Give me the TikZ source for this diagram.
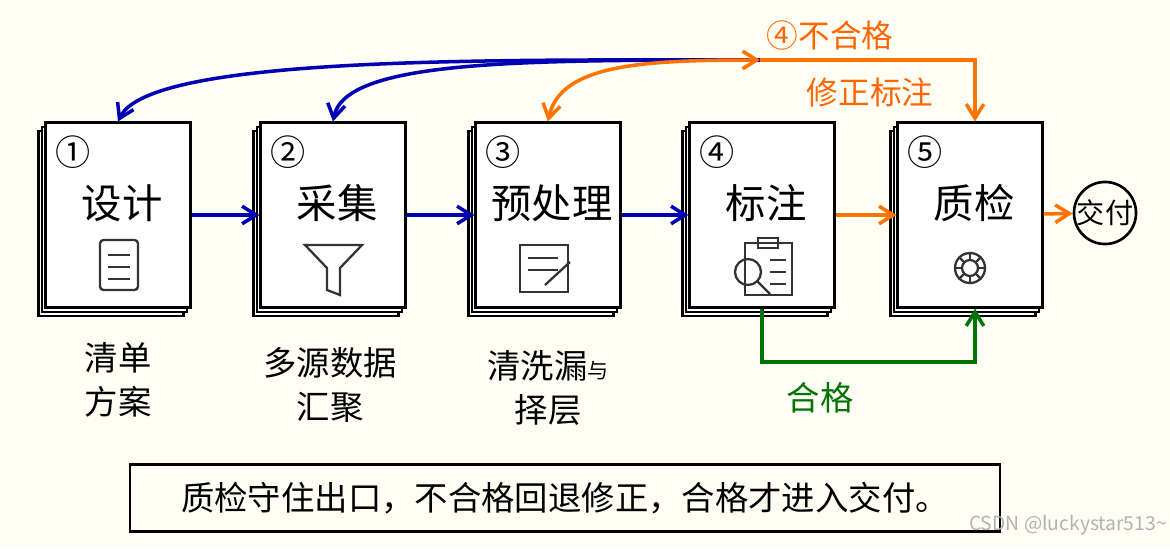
\documentclass[tikz,border=0pt]{standalone}
\usepackage{fontspec}
\setmainfont{Noto Sans CJK SC}
\usetikzlibrary{positioning,shadows,arrows.meta}
\begin{document}
\begin{tikzpicture}[x=0.02cm,y=-0.02cm,line width=1.2pt,
  doc/.style={rectangle, draw=black, fill=white, minimum width=2.9cm, minimum height=3.7cm, double copy shadow={shadow xshift=-2pt, shadow yshift=-2.5pt}},
  title/.style={font=\fontsize{23}{27}\selectfont},
  num/.style={font=\fontsize{20}{24}\selectfont},
  note/.style={font=\fontsize{19}{25}\selectfont, align=center},
  arrow/.style={-{Straight Barb[length=8pt,width=10pt]}, line width=2pt},
  icon/.style={draw=black!80, line width=1.3pt}]

\useasboundingbox[fill=white!96!yellow] (0,0) rectangle (1170,548);

% documents
\node (d1) [doc] at (118,215) {};
\node (d2) [doc] at (333,215) {};
\node (d3) [doc] at (548,215) {};
\node (d4) [doc] at (762,215) {};
\node (d5) [doc] at (970,215) {};
\node (out) [circle, draw=black, line width=1.5pt, minimum size=1.2cm, inner sep=0pt, font=\fontsize{16}{20}\selectfont] at (1105,213) {交付};

% numbers and titles
\node [num] at (73,152) {①};
\node [num] at (288,152) {②};
\node [num] at (503,152) {③};
\node [num] at (717,152) {④};
\node [num] at (925,152) {⑤};
\node [title] at (122,203) {设计};
\node [title] at (337,203) {采集};
\node [title] at (552,203) {预处理};
\node [title] at (766,203) {标注};
\node [title] at (974,203) {质检};

% icons
\draw [icon, rounded corners=2pt] (100,240) rectangle (138,290);
\foreach \y in {255,267,279} \draw [icon] (108,\y) -- (130,\y);
\draw [icon] (305,245) -- (362,245) -- (340,268) -- (340,295) -- (327,290) -- (327,268) -- cycle;
\draw [icon] (520,245) rectangle (568,292);
\foreach \y in {258,270} \draw [icon] (528,\y) -- (558,\y);
\draw [icon] (545,285) -- (570,262);
\draw [icon] (745,243) rectangle (792,295);
\draw [icon] (758,238) rectangle (778,248);
\foreach \y in {260,272,284} \draw [icon] (770,\y) -- (786,\y);
\draw [icon] (748,272) circle (13);
\draw [icon] (757,281) -- (770,294);
\draw [icon] (970,268) circle (8);
\foreach \a in {0,45,...,315} \draw [icon] (970,268) ++(\a:9) -- ++(\a:7);
\draw [icon] (970,268) circle (15);

% flow
\draw [arrow, blue!70!black] (d1) -- (d2);
\draw [arrow, blue!70!black] (d2) -- (d3);
\draw [arrow, blue!70!black] (d3) -- (d4);
\draw [arrow, orange!90!red] (d4) -- (d5);
\draw [arrow, orange!90!red] (d5) -- (out);

% feedback
\coordinate (mid) at (760,60);
\coordinate (corner) at (975,60);
\draw [arrow, blue!70!black] (mid) .. controls (500,60) and (150,55) .. (d1.north);
\draw [arrow, blue!70!black] (mid) .. controls (520,60) and (345,60) .. (d2.north);
\draw [arrow, {Straight Barb[length=8pt,width=10pt]}-{Straight Barb[length=8pt,width=10pt]}, orange!90!red] (d3.north) .. controls (560,65) and (640,60) .. (mid);
\draw [arrow, orange!90!red] (mid) -- (corner) -- (d5.north -| corner);
\node [orange!80!red, font=\fontsize{18}{22}\selectfont] at (830,35) {④不合格};
\node [orange!80!red, font=\fontsize{18}{22}\selectfont] at (870,92) {修正标注};

% pass
\coordinate (g1) at (762,362);
\coordinate (g2) at (975,362);
\draw [arrow, green!45!black] (d4.south -| g1) -- (g1) -- (g2) -- (d5.south -| g2);
\node [green!45!black, font=\fontsize{19}{22}\selectfont] at (820,398) {合格};

% notes
\node [note] at (118,380) {清单\\方案};
\node [note] at (330,385) {多源数据\\汇聚};
\node [note] at (548,388) {清洗漏{\fontsize{12}{12}\selectfont 与}\\择层};

% summary
\node (sum) [draw=black, line width=1.5pt, minimum width=17.4cm, minimum height=1.35cm, font=\fontsize{19}{24}\selectfont] at (565,498) {质检守住出口，不合格回退修正，合格才进入交付。};
\node [gray!60, font=\fontsize{11}{13}\selectfont] at (1068,525) {CSDN @luckystar513\textasciitilde};
\end{tikzpicture}
\end{document}
